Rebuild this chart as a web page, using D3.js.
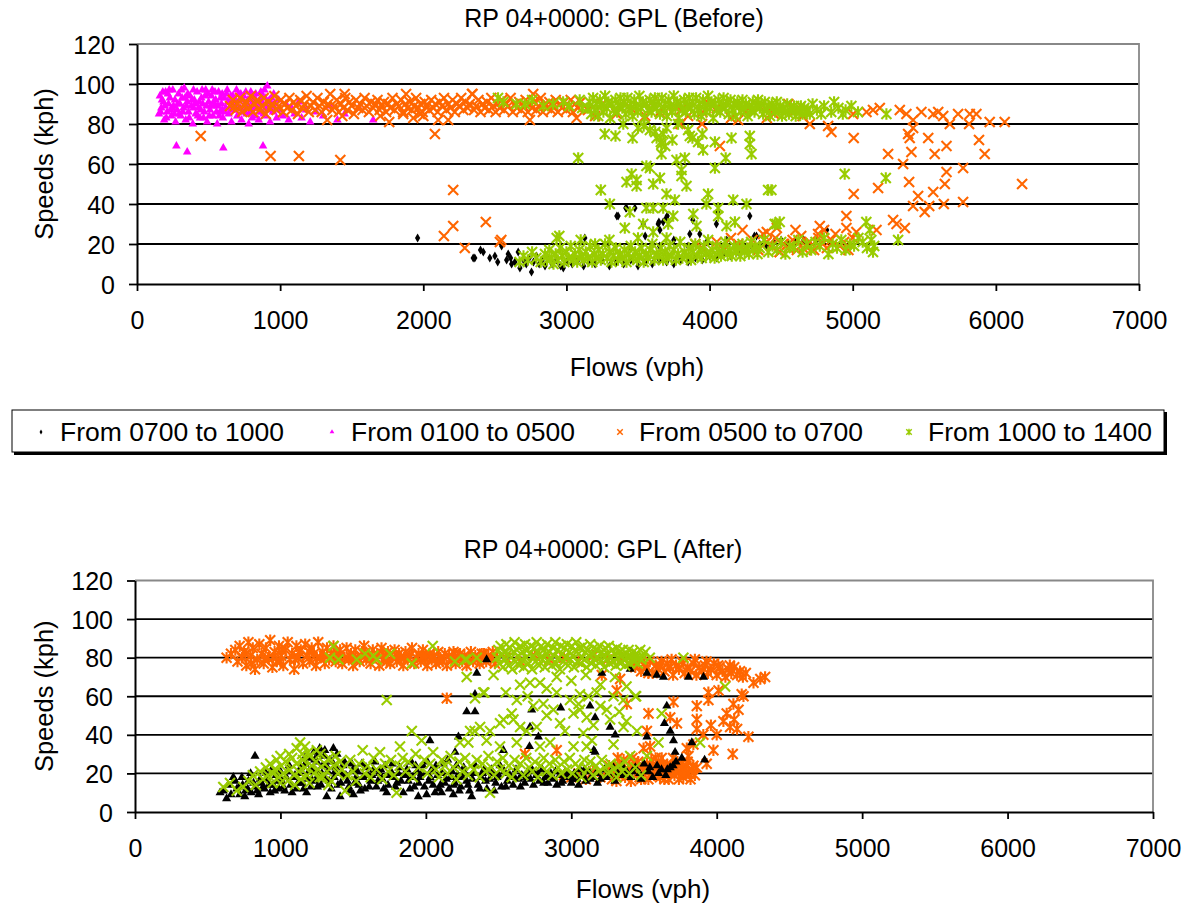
<!DOCTYPE html>
<html><head><meta charset="utf-8">
<script src="https://cdn.jsdelivr.net/npm/d3@7"></script>
<style>
body{margin:0;background:#fff;}
text{font-family:"Liberation Sans",Arial,sans-serif;fill:#000;}
</style>
</head><body>
<svg id="c" width="1191" height="909"></svg>
<script>
// ---------------- DATA ----------------
const flowTicks = [0,1000,2000,3000,4000,5000,6000,7000];
const speedTicks = [0,20,40,60,80,100,120];
const titleBefore = "RP 04+0000: GPL (Before)";
const titleAfter = "RP 04+0000: GPL (After)";
const xLabel = "Flows (vph)";
const yLabel = "Speeds (kph)";
const legendLabels = ["From 0700 to 1000","From 0100 to 0500","From 0500 to 0700","From 1000 to 1400"];

// Before: From 0700 to 1000 (black diamonds)
const beforeAM = [[1960,23],[2349,13],[2360,13],[2400,17],[2419,16],[2465,13],[2500,14],[2520,11],[2547,19],[2582,12],[2593,15],[2610,13],[2617,10],[2640,11],[2663,16],[2675,8],[2700,12],[2720,10],[2740,13],[2756,6],[2770,11],[2790,14],[2810,10],[2830,12],[2850,9],[2870,13],[2900,10],[2930,12],[2960,9],[2978,8],[3000,11],[3040,10],[3080,12],[3120,9],[3128,23],[3160,11],[3200,10],[3250,12],[3292,20],[3300,9],[3350,11],[3352,34],[3361,34],[3400,10],[3415,38],[3420,38],[3450,12],[3450,18],[3478,38],[3500,9],[3536,30],[3550,11],[3550,24],[3600,10],[3641,30],[3646,31],[3650,12],[3650,19],[3653,27],[3676,31],[3698,33],[3700,11],[3704,34],[3750,10],[3750,22],[3800,12],[3850,11],[3850,19],[3862,25],[3883,32],[3900,13],[3932,25],[3950,12],[3980,21],[4000,14],[4048,30],[4050,13],[4057,36],[4100,15],[4120,22],[4150,14],[4200,16],[4250,17],[4281,34],[4300,18],[4313,24],[4328,24],[4350,20],[4400,19],[4450,21],[4500,22],[4550,20],[4600,21],[4658,22],[4700,20],[4750,22],[4818,27]];

// Before: From 0100 to 0500 (magenta triangles)
const beforeNight = [[160,94],[165,86],[170,88],[175,92],[180,96],[185,91],[190,82],[195,89],[200,96],[205,83],[210,86],[215,95],[220,90],[225,97],[230,93],[235,87],[240,84],[245,88],[250,97],[255,89],[260,85],[265,92],[270,81],[280,87],[285,90],[290,95],[295,85],[300,90],[305,84],[310,97],[315,93],[320,86],[325,88],[330,98],[335,93],[340,82],[345,89],[350,91],[355,95],[360,86],[365,83],[370,94],[380,89],[385,92],[390,80],[395,88],[395,97],[400,92],[405,90],[410,85],[420,96],[425,84],[430,88],[435,91],[440,83],[445,87],[450,93],[455,97],[460,90],[465,83],[470,86],[475,94],[480,97],[485,89],[490,81],[495,95],[500,91],[505,84],[510,87],[515,89],[520,94],[525,97],[530,84],[535,91],[540,89],[545,96],[550,92],[555,86],[560,80],[565,89],[570,96],[575,84],[580,86],[585,93],[590,90],[595,95],[595,87],[600,83],[610,93],[615,86],[620,88],[625,95],[630,97],[635,91],[640,85],[645,88],[650,91],[655,94],[660,81],[665,87],[670,94],[675,89],[680,87],[685,92],[690,90],[695,97],[700,84],[705,88],[710,95],[715,92],[720,88],[725,95],[730,82],[735,86],[740,92],[745,94],[750,86],[755,90],[760,96],[765,85],[770,89],[775,92],[780,80],[785,88],[790,93],[795,86],[795,96],[800,87],[805,83],[810,91],[815,94],[820,84],[825,88],[830,95],[835,91],[840,88],[845,89],[850,82],[855,86],[860,92],[865,96],[870,86],[875,94],[880,90],[885,85],[890,97],[895,93],[900,84],[905,88],[910,99],[915,91],[920,88],[925,92],[930,81],[935,87],[940,93],[945,89],[950,86],[955,95],[960,90],[975,83],[990,92],[1000,87],[1020,84],[1040,90],[1060,82],[1080,88],[1100,85],[1130,91],[1150,83],[1180,87],[1210,81],[1250,86],[1300,84],[1350,89],[1400,82],[1450,85],[1550,88],[1650,82],[275,69],[351,66],[603,68],[880,69],[154,85]];

// Before: From 0500 to 0700 (orange x)
const beforeEarly = [[650,89],[670,92],[684,89],[690,87],[705,90],[720,93],[735,86],[750,89],[765,91],[780,88],[795,94],[810,86],[825,90],[840,92],[855,87],[870,89],[885,93],[900,85],[915,91],[930,88],[945,90],[960,94],[975,87],[990,89],[1005,92],[1020,86],[1035,90],[1050,88],[1065,93],[1080,87],[1095,91],[1110,89],[1125,85],[1140,92],[1155,88],[1170,90],[1185,94],[1200,86],[1215,89],[1230,91],[1245,87],[1260,93],[1275,89],[1290,86],[1305,91],[1320,88],[1335,90],[1350,95],[1365,87],[1380,89],[1395,92],[1410,86],[1425,90],[1440,88],[1450,95],[1455,93],[1470,87],[1485,91],[1500,89],[1515,85],[1530,92],[1545,88],[1560,90],[1575,87],[1590,93],[1605,89],[1620,86],[1635,91],[1650,88],[1665,90],[1680,92],[1695,87],[1700,84],[1710,89],[1725,91],[1740,86],[1755,90],[1770,88],[1785,93],[1800,87],[1815,90],[1830,89],[1845,92],[1860,86],[1860,85],[1875,90],[1880,95],[1890,88],[1905,91],[1920,87],[1935,89],[1950,93],[1965,88],[1980,90],[1995,86],[2000,84],[2010,91],[2025,89],[2040,87],[2055,92],[2070,88],[2085,90],[2100,86],[2115,91],[2130,89],[2145,93],[2160,87],[2175,90],[2190,88],[2205,92],[2220,86],[2235,90],[2250,89],[2265,93],[2280,87],[2295,91],[2310,88],[2325,90],[2340,95],[2344,95],[2355,87],[2370,89],[2385,92],[2400,86],[2415,90],[2430,88],[2445,91],[2460,87],[2475,93],[2490,89],[2505,86],[2520,90],[2535,88],[2550,92],[2565,87],[2580,90],[2595,89],[2610,93],[2625,86],[2640,90],[2655,88],[2670,91],[2685,87],[2700,89],[2715,92],[2730,86],[2745,82],[2745,90],[2760,88],[2768,95],[2775,91],[2790,87],[2805,89],[2820,93],[2835,86],[2850,90],[2865,88],[2880,91],[2895,87],[2910,89],[2925,92],[2940,86],[2955,90],[2970,88],[2985,91],[3000,87],[3015,89],[3030,92],[3045,86],[3060,90],[3071,83],[3080,88],[3100,91],
[3150,87],[3200,84],[3250,90],[3350,85],[3400,91],[3450,88],[3550,84],[3600,91],[3650,86],[3750,89],[3797,80],[3800,87],[3850,84],[3948,80],[3950,86],[4000,90],[4050,88],[4072,69],[4150,83],[4200,82],[4250,86],[4350,89],[4400,83],[4450,85],[4550,90],[4600,87],[4650,84],
[445,74],[933,64],[1131,64],[1420,62],[1762,81],[1329,82],[1434,84],[1930,83],[1976,85],[2081,75],[2104,82],[2174,82],[2209,47],[2209,29],[2144,24],[2437,31],[2290,18],[2535,21],[2545,22],
[4700,80],[4828,79],[4851,76],[5007,73],[5003,85],[5096,86],[5142,87],[5189,88],[5329,87],[5375,85],[5422,82],[5480,86],[5562,85],[5597,86],[5632,84],[5678,80],[5736,85],[5818,85],[5864,85],[5813,80],[5957,81],[6062,81],[5422,78],[5387,75],[5398,73],[5527,73],[5655,69],[5573,65],[5410,66],[5247,65],[5882,72],[5922,65],[5352,60],[5655,56],[5771,58],[5394,51],[5643,50],[5177,48],[5007,45],[5562,46],[5457,44],[5422,39],[5503,36],[5534,39],[5636,40],[5771,41],[6183,50],[5282,32],[5306,30],[5364,28],[4956,34],[4956,28],[5026,26],[5166,27],[4770,29],[4758,25],[4653,18],[4514,20],[4490,16],
[3900,20],[3950,18],[4050,21],[4100,17],[4150,23],[4200,20],[4230,27],[4250,18],[4300,22],[4340,17],[4374,25],[4400,21],[4400,26],[4430,19],[4460,23],[4470,28],[4490,16],[4520,20],[4550,18],[4580,22],[4600,27],[4610,17],[4640,24],[4670,19],[4700,21],[4730,17],[4760,23],[4790,20],[4800,27],[4820,18],[4850,22],[4880,25],[4910,19],[4940,21],[4970,17],[5000,23]];

// Before: From 1000 to 1400 (green asterisks)
const beforeMid = [[2522,93],[2560,91],[2651,90],[2710,90],[2760,92],[2840,89],[2907,90],[2977,91],[3020,89],[3093,92],[3110,88],
[3150,88],[3162,91],[3174,85],[3186,93],[3198,87],[3210,90],[3222,84],[3234,92],[3246,89],[3258,86],[3270,94],[3282,88],[3294,91],[3306,83],[3318,90],[3330,87],[3342,92],[3354,86],[3366,89],[3378,93],[3390,88],[3402,91],[3414,85],[3426,93],[3438,87],[3450,90],[3462,84],[3474,92],[3486,89],[3498,86],[3510,94],[3522,88],[3534,91],[3546,83],[3558,90],[3570,87],[3582,92],[3594,86],[3606,89],[3618,93],[3630,88],[3642,91],[3654,85],[3666,93],[3678,87],[3690,90],[3702,84],[3714,92],[3726,89],[3738,86],[3750,94],[3762,88],[3774,91],[3786,83],[3798,90],[3810,87],[3822,92],[3834,86],[3846,89],[3858,93],[3870,88],[3882,91],[3894,85],[3906,93],[3918,87],[3930,90],[3942,84],[3954,92],[3966,89],[3978,86],[3990,94],[4002,88],[4014,91],[4026,83],[4038,90],[4050,87],[4062,92],[4074,86],[4086,89],[4098,93],[4110,88],[4122,91],[4134,85],[4146,92],[4158,87],[4170,90],[4182,84],[4194,91],[4206,89],[4218,86],[4230,92],[4242,88],[4254,90],[4266,84],[4278,89],[4290,87],[4302,91],[4314,86],[4326,89],[4338,92],[4350,88],[4362,90],[4374,85],[4386,91],[4398,87],[4410,89],[4422,84],[4434,90],[4446,88],[4458,86],[4470,91],[4482,87],[4494,89],[4506,84],[4518,88],[4530,86],[4542,90],[4554,85],[4566,88],[4578,87],[4590,89],[4602,84],[4614,87],[4626,86],[4638,89],[4650,85],[4662,88],[4674,86],[4686,87],[4700,85],
[4720,90],[4750,87],[4780,85],[4800,89],[4850,86],[4870,91],[4900,88],[4931,85],[4950,87],[4991,89],[5037,86],[5235,85],
[3082,63],[3268,75],[3343,74],[3462,73],[3397,80],[3500,78],[3540,79],[3583,77],[3620,76],[3630,73],[3660,71],[3676,75],[3690,69],[3664,70],[3664,65],[3700,78],[3740,72],[3769,62],[3780,80],[3827,63],[3804,57],[3804,54],[3839,49],[3850,77],[3862,74],[3880,73],[3920,71],[3950,75],[3955,67],[4037,71],[4153,73],[4281,74],[4281,70],[4293,65],[4113,63],[4037,58],[3559,59],[3583,58],[3455,55],[3420,51],[3490,52],[3490,49],[3606,50],[3653,53],[3240,47],[3699,45],[3757,42],[3990,45],[4165,42],[4258,40],[4409,47],[3978,40],[3303,40],[3443,36],[3559,38],[3606,38],[3676,38],[3746,34],[3886,35],[4060,38],[4060,34],[4177,31],[4118,29],[3536,30],[3408,28],[3606,26],[3711,30],[3909,29],[4467,30],[2932,23],[4944,55],[5231,53],[4432,47],[5317,22],[4455,30],[4490,31],[5095,31],[5119,27],[5142,16],
[2672,11],[2700,14],[2730,12],[2760,16],[2790,13],[2820,11],[2850,15],[2865,12],[2880,17],[2895,13],[2910,10],[2925,15],[2940,12],[2950,24],[2955,18],[2970,14],[2985,11],[3000,16],[3015,13],[3030,19],[3045,12],[3060,15],[3075,11],[3090,17],[3100,22],[3105,14],[3120,12],[3135,16],[3150,13],[3165,19],[3180,11],[3195,15],[3200,20],[3210,13],[3225,17],[3240,12],[3255,15],[3270,20],[3285,13],[3300,16],[3300,22],[3315,11],[3330,14],[3345,18],[3360,12],[3375,15],[3390,13],[3405,17],[3420,11],[3435,15],[3450,19],[3465,13],[3480,16],[3495,12],[3500,23],[3510,14],[3525,18],[3540,11],[3555,15],[3570,13],[3585,17],[3600,20],[3615,12],[3630,15],[3645,14],[3660,18],[3675,12],[3690,16],[3700,23],[3705,13],[3720,19],[3735,14],[3750,17],[3765,12],[3780,15],[3795,21],[3810,13],[3825,16],[3840,14],[3855,18],[3870,12],[3885,16],[3900,20],[3915,14],[3930,17],[3945,13],[3960,19],[3975,15],[3990,22],[4005,14],[4020,17],[4035,13],[4050,19],[4065,16],[4080,14],[4095,18],[4110,21],[4125,15],[4140,17],[4155,14],[4170,19],[4185,16],[4200,18],[4215,14],[4230,20],[4245,16],[4260,18],[4275,15],[4290,21],[4305,17],[4320,19],[4335,15],[4350,18],[4380,22],[4410,16],[4440,19],[4470,17],[4500,21],[4530,15],[4560,19],[4590,18],[4620,22],[4650,16],[4680,20],[4710,17],[4740,21],[4770,19],[4800,23],[4830,15],[4860,20],[4890,18],[4920,22],[4950,17],[4980,20],[5010,19],[5040,23],[5070,21],[5100,18],[5130,22],[5150,19]];

// After: From 0700 to 1000 (black triangles)
const afterAM = [[585,10],[607,11],[630,7],[640,14],[660,9],[676,18],[690,16],[700,12],[715,13],[720,9],[735,18],[740,14],[755,8],[760,11],[775,12],[780,16],[795,20],[800,10],[815,15],[825,29],[830,13],[840,11],[850,9],[860,17],[870,15],[880,13],[890,12],[900,20],[910,17],[920,14],[930,10],[940,22],[950,14],[960,11],[970,19],[980,16],[990,12],[1000,21],[1010,16],[1020,13],[1030,11],[1040,18],[1050,21],[1060,24],[1070,14],[1080,10],[1090,18],[1100,19],[1110,12],[1120,15],[1130,20],[1140,23],[1150,15],[1160,12],[1170,25],[1175,29],[1180,10],[1190,17],[1195,21],[1200,28],[1210,13],[1215,17],[1220,22],[1230,31],[1235,27],[1240,16],[1250,26],[1255,13],[1260,19],[1265,30],[1270,33],[1280,14],[1285,20],[1290,24],[1300,29],[1305,32],[1310,17],[1315,24],[1318,8],[1325,21],[1335,16],[1340,27],[1350,12],[1355,26],[1364,33],[1370,18],[1375,21],[1380,23],[1390,30],[1395,14],[1410,8],[1415,15],[1420,20],[1430,24],[1440,26],[1450,19],[1460,16],[1470,13],[1480,11],[1490,25],[1500,22],[1502,9],[1510,15],[1520,18],[1530,21],[1540,14],[1550,11],[1560,25],[1570,18],[1580,12],[1590,23],[1600,19],[1610,13],[1620,16],[1630,19],[1640,22],[1650,26],[1660,13],[1670,16],[1680,20],[1690,22],[1700,17],[1710,12],[1720,24],[1731,10],[1740,14],[1750,19],[1760,21],[1770,25],[1780,18],[1790,13],[1800,15],[1810,20],[1820,23],[1830,16],[1845,10],[1860,19],[1870,22],[1880,16],[1890,12],[1900,26],[1910,18],[1920,13],[1930,24],[1940,21],[1948,8],[1950,15],[1960,18],[1970,20],[1980,24],[1990,13],[2005,9],[2010,26],[2020,16],[2028,37],[2030,18],[2040,22],[2050,14],[2063,10],[2070,24],[2080,19],[2090,12],[2100,14],[2108,10],[2110,20],[2120,25],[2130,15],[2140,17],[2150,27],[2160,12],[2170,18],[2180,21],[2189,9],[2190,14],[2200,15],[2201,31],[2210,24],[2220,19],[2224,39],[2230,11],[2240,13],[2250,18],[2260,23],[2270,20],[2280,16],[2281,52],[2290,14],[2300,11],[2315,8],[2320,17],[2330,20],[2338,52],[2338,61],[2340,24],[2350,72],[2360,14],[2370,12],[2380,18],[2390,20],[2400,22],[2410,16],[2418,79],[2420,12],[2440,17],[2450,22],[2460,20],[2470,11],[2480,15],[2490,18],[2500,19],[2510,24],[2520,13],[2533,32],[2540,21],[2550,13],[2560,16],[2570,20],[2580,18],[2600,14],[2610,18],[2620,22],[2640,17],[2650,13],[2660,19],[2680,15],[2690,18],[2700,21],[2713,34],[2716,44],[2720,17],[2728,53],[2730,22],[2740,14],[2760,19],[2770,20],[2774,39],[2780,16],[2800,22],[2810,15],[2820,18],[2840,15],[2850,18],[2860,20],[2880,17],[2890,21],[2900,14],[2920,19],[2927,54],[2930,15],[2940,16],[2960,21],[2970,19],[2980,18],[3000,15],[3010,17],[3020,20],[3040,17],[3050,14],[3060,22],[3080,19],[3090,22],[3100,16],[3120,21],[3129,55],[3130,17],[3140,18],[3155,32],[3164,49],[3164,31],[3170,20],[3180,15],[3200,17],[3210,72],[3230,22],[3240,18],[3260,19],[3267,44],[3290,23],[3300,16],[3302,40],[3320,20],[3350,24],[3360,19],[3380,21],[3405,74],[3410,18],[3420,21],[3440,23],[3470,20],[3480,17],[3500,25],[3520,72],[3520,39],[3530,21],[3540,23],[3560,18],[3588,71],[3590,24],[3600,20],[3620,22],[3634,70],[3640,46],[3650,19],[3657,55],[3660,22],[3680,42],[3680,23],[3700,24],[3703,37],[3714,31],[3720,26],[3760,28],[3806,70],[3829,36],[3909,70],[3917,27]];

// After: From 0500 to 0700 (orange asterisks)
const afterEarly = [[630,80],[660,82],[690,84],[705,78],[720,86],[735,80],[750,83],[760,82],[765,76],[780,88],[795,81],[800,77],[810,85],[825,74],[840,79],[855,87],[870,82],[885,77],[890,79],[900,85],[915,80],[930,89],[945,75],[950,80],[960,83],[975,78],[990,86],[1000,78],[1005,81],[1010,84],[1020,76],[1035,84],[1050,88],[1065,79],[1080,82],[1095,74],[1100,79],[1110,86],[1125,80],[1130,83],[1140,84],[1155,77],[1170,87],[1185,81],[1200,78],[1200,83],[1215,85],[1230,82],[1245,76],[1250,80],[1260,88],[1275,80],[1290,83],[1300,81],[1305,77],[1320,85],[1335,79],[1350,82],[1365,86],[1370,82],[1380,78],[1395,81],[1400,80],[1410,84],[1425,77],[1440,80],[1455,85],[1470,79],[1485,82],[1490,80],[1500,76],[1515,84],[1530,80],[1545,78],[1560,83],[1575,86],[1590,79],[1600,80],[1605,81],[1610,82],[1620,77],[1635,84],[1650,80],[1665,82],[1680,76],[1695,85],[1700,82],[1710,79],[1725,81],[1730,78],[1740,83],[1755,77],[1770,80],[1785,84],[1800,78],[1800,81],[1815,82],[1830,80],[1845,76],[1850,80],[1860,83],[1875,79],[1890,81],[1905,85],[1920,77],[1935,80],[1950,82],[1965,78],[1970,80],[1980,84],[1995,80],[2000,81],[2010,76],[2025,82],[2040,79],[2050,80],[2055,81],[2070,77],[2085,83],[2090,78],[2100,80],[2115,78],[2130,82],[2145,76],[2160,81],[2175,79],[2190,83],[2200,82],[2205,77],[2210,79],[2220,80],[2235,82],[2250,78],[2265,81],[2280,76],[2295,80],[2310,83],[2325,78],[2330,80],[2340,81],[2355,79],[2370,77],[2385,82],[2400,80],[2400,82],[2415,78],[2430,81],[2445,79],[2450,80],[2460,83],[2475,77],[2490,80],
[2550,80],[2650,78],[2750,81],[2850,79],[2950,80],[3050,78],[3150,81],[3250,79],[3350,80],
[3420,78],[3440,75],[3450,77],[3460,79],[3480,73],[3500,77],[3520,75],[3530,72],[3540,78],[3560,72],[3580,76],[3600,74],[3610,76],[3620,78],[3640,73],[3660,77],[3680,75],[3690,79],[3700,71],[3720,76],[3740,74],[3760,78],[3770,77],[3780,72],[3800,75],[3820,73],[3840,77],[3850,79],[3860,71],[3880,75],[3900,73],[3920,76],[3930,78],[3940,72],[3960,74],[3980,77],[4000,71],[4010,76],[4020,75],[4040,73],[4060,70],[4080,74],[4090,76],[4100,72],[4120,75],[4140,71],[4160,73],[4180,70],[4200,72],[4253,67],[4300,69],[4333,70],[4184,60],
[3210,71],[3336,69],[3313,63],[3382,56],[3531,51],[3520,42],[3703,57],[3680,49],[3726,46],[3863,55],[3863,48],[3863,43],[3943,62],[4012,63],[3943,58],[4069,51],[4046,47],[4092,44],[4000,40],[4172,61],[4115,56],[4218,39],[4110,30],[3908,40],[3977,32],[3840,35],[3794,33],[3806,29],[3931,25],[3863,23],[3760,22],[3794,20],[3542,34],[3497,33],[2900,32],[2682,30],[3622,28],[2144,59],[4150,53],[4120,48],[4140,43],[3960,45],
[2950,19],[3000,18],[3050,20],[3100,17],[3150,21],[3200,18],[3250,20],[3260,24],[3280,17],[3290,21],[3300,23],[3310,16],[3320,28],[3330,19],[3340,22],[3350,25],[3360,27],[3370,18],[3380,20],[3390,22],[3400,24],[3410,16],[3420,28],[3430,26],[3440,22],[3450,20],[3460,26],[3470,18],[3480,17],[3490,24],[3500,22],[3510,21],[3520,25],[3530,17],[3540,19],[3550,27],[3560,23],[3570,19],[3580,28],[3590,23],[3600,26],[3610,18],[3620,20],[3630,25],[3640,17],[3650,21],[3660,24],[3670,17],[3680,20],[3690,23],[3700,28],[3710,19],[3720,22],[3730,26],[3740,17],[3750,21],[3760,25],[3770,18],[3780,20],[3790,24],[3800,26],[3810,20],[3820,17],[3830,22],[3840,24],[3850,19]];

// After: From 1000 to 1400 (green x)
const afterMid = [[2490,80],[2498,84],[2506,77],[2514,86],[2522,81],[2530,75],[2538,83],[2546,79],[2554,87],[2562,82],[2570,76],[2578,85],[2586,80],[2594,74],[2602,83],[2610,88],[2618,78],[2626,84],[2634,81],[2642,76],[2650,86],[2658,79],[2666,83],[2674,75],[2682,87],[2690,80],[2698,84],[2706,77],[2714,82],[2722,86],[2730,74],[2738,81],[2746,85],[2754,78],[2762,88],[2770,83],[2778,76],[2786,80],[2794,86],[2802,79],[2810,84],[2818,75],[2826,82],[2834,87],[2842,78],[2850,83],[2858,80],[2866,76],[2874,85],[2882,81],[2890,88],[2898,77],[2906,84],[2914,80],[2922,74],[2930,86],[2938,82],[2946,78],[2954,85],[2962,80],[2970,87],[2978,76],[2986,83],[2994,79],[3002,86],[3010,81],[3018,75],[3026,84],[3034,88],[3042,78],[3050,82],[3058,85],[3066,77],[3074,80],[3082,86],[3090,79],[3098,83],[3106,75],[3114,84],[3122,81],[3130,87],[3138,77],[3146,82],[3154,85],[3162,79],[3170,76],[3178,84],[3186,80],[3194,86],[3202,78],[3210,83],[3218,81],[3226,75],[3234,85],[3242,79],[3250,82],[3258,86],[3266,77],[3274,80],[3282,84],[3290,78],[3298,82],[3306,76],[3314,85],[3322,80],[3330,83],[3338,77],[3346,81],[3354,84],[3362,79],[3370,76],[3378,82],[3386,80],[3394,84],[3402,77],[3410,81],[3418,79],[3426,83],[3434,78],[3442,80],[3450,82],[3458,77],[3466,80],[3474,84],[3482,79],[3490,81],[3510,83],[3540,80],[3771,80],[4058,65],[3886,36],
[1341,80],[1364,86],[1399,79],[1525,79],[1582,82],[1639,81],[1662,79],[1754,82],[1903,77],[2047,86],[1731,58],[2200,78],[2281,79],[2350,80],
[2281,70],[2465,71],[2269,79],[2395,62],[2402,62],[2338,59],[2625,58],[2648,66],[2716,67],[2785,67],[2831,64],[2900,62],[3060,61],[3118,60],[3175,62],[3290,60],[2991,58],[2808,56],[2739,55],[2877,53],[2831,50],[2590,51],[2533,48],[2510,46],[2602,48],[2648,44],[2693,42],[2762,44],[2923,46],[2957,42],[3015,51],[3060,53],[3106,49],[3152,45],[3083,41],[3141,37],[3244,53],[3267,48],[3290,35],[2304,42],[2335,42],[2373,44],[2441,42],[2235,36],[2292,36],[2418,37],[2510,34],[2625,36],[2854,36],[2785,34],[3015,34],[3106,34],[3359,44],[3405,29],[3520,29],[3451,42],[3600,36],[3622,51],[3440,60],[3359,58],[3446,60],[2900,70],[3000,68],[3100,71],[3200,66],[3300,70],[3380,65],[2550,62],[2700,60],[3050,56],[3200,55],[3330,52],[3380,47],
[607,13],[653,15],[699,11],[745,13],[780,16],[810,19],[830,14],[860,21],[880,17],[900,23],[915,19],[930,25],[945,15],[950,20],[960,22],[975,27],[990,18],[1000,29],[1000,15],[1005,24],[1020,20],[1035,26],[1050,16],[1060,30],[1065,22],[1080,28],[1095,19],[1100,14],[1110,25],[1112,33],[1125,21],[1135,36],[1140,17],[1150,30],[1155,27],[1169,34],[1170,23],[1185,19],[1190,31],[1200,29],[1200,15],[1215,24],[1230,20],[1245,26],[1250,32],[1260,22],[1270,18],[1275,30],[1290,18],[1305,25],[1320,21],[1330,14],[1335,28],[1350,16],[1365,24],[1380,29],[1395,20],[1410,26],[1425,22],[1445,11],[1460,19],[1480,27],[1500,21],[1520,16],[1540,25],[1566,32],[1580,20],[1600,24],[1620,18],[1640,28],[1660,22],[1685,31],[1700,17],[1720,25],[1740,21],[1760,27],[1780,19],[1799,10],[1820,24],[1822,34],[1840,28],[1860,21],[1880,26],[1903,42],[1910,18],[1930,30],[1950,23],[1971,37],[1990,27],[2010,20],[2030,25],[2050,31],[2070,22],[2090,18],[2110,27],[2130,24],[2150,20],[2170,29],[2190,23],[2210,17],[2230,26],[2250,21],[2270,28],[2290,19],[2310,24],[2330,22],[2350,27],[2370,18],[2390,25],[2410,21],[2430,29],[2441,10],[2450,23],[2470,19],[2490,26],[2510,22],[2530,28],[2550,20],[2570,24],[2590,18],[2610,27],[2630,22],[2650,25],[2670,19],[2690,28],[2710,23],[2730,21],[2750,26],[2770,18],[2790,24],[2810,28],[2830,21],[2850,25],[2870,19],[2890,27],[2910,23],[2930,20],[2950,26],[2970,22],[2990,28],[3010,20],[3030,25],[3050,23],[3070,18],[3090,27],[3110,22],[3130,26],[3150,19],[3170,24],[3190,21],[3210,27],[3230,23],[3250,20],[3270,25],[3290,22],[3310,18],[3330,24],[3350,21],[3370,26],[3400,20],[3440,23],[3480,19]];

// ---------------- RENDER ----------------
const svg = d3.select("#c");
const ORANGE = "#FF6600", GREEN = "#99CC00", MAGENTA = "#FF00FF", BLACK = "#000000";

const shapes = {
  diamond: {d: d3.symbol(d3.symbolDiamond, 24)(), filled: true},
  triangle: {d: d3.symbol(d3.symbolTriangle, 32)(), filled: true},
  triangleL: {d: d3.symbol(d3.symbolTriangle, 36)(), filled: true},
  xmark: {d: "M-5,-5L5,5M5,-5L-5,5", filled: false},
  aster: {d: "M-5,-5L5,5M5,-5L-5,5M0,-5.8L0,5.8", filled: false}
};

function drawSeries(g, data, x, y, shape, color, sw) {
  const s = shapes[shape];
  g.append("g").selectAll("path").data(data).join("path")
    .attr("transform", d => `translate(${x(d[0]).toFixed(1)},${y(d[1]).toFixed(1)})`)
    .attr("d", s.d)
    .attr("fill", s.filled ? color : "none")
    .attr("stroke", s.filled ? "none" : color)
    .attr("stroke-width", sw || 2);
}

function drawChart(cfg) {
  const g = svg.append("g");
  const x = d3.scaleLinear().domain([0,7000]).range([cfg.left, cfg.right]);
  const y = d3.scaleLinear().domain([0,120]).range([cfg.bottom, cfg.top]);

  g.append("g").selectAll("line").data(speedTicks.filter(v => v > 0 && v < 120)).join("line")
    .attr("x1", cfg.left).attr("x2", cfg.right)
    .attr("y1", d => y(d)).attr("y2", d => y(d))
    .attr("stroke", "#000").attr("stroke-width", 1.8);
  g.append("path")
    .attr("d", `M${cfg.left},${y(120)}H${cfg.right}V${cfg.bottom}`)
    .attr("fill", "none").attr("stroke", "#888").attr("stroke-width", 1.8);

  const xa = g.append("g").attr("transform", `translate(0,${cfg.bottom})`)
    .call(d3.axisBottom(x).tickValues(flowTicks).tickFormat(d3.format("d")).tickSize(7).tickSizeOuter(0).tickPadding(20));
  const ya = g.append("g").attr("transform", `translate(${cfg.left},0)`)
    .call(d3.axisLeft(y).tickValues(speedTicks).tickSize(8).tickSizeOuter(0).tickPadding(14));
  [xa, ya].forEach(a => {
    a.select(".domain").attr("stroke", "#000").attr("stroke-width", 2);
    a.selectAll(".tick line").attr("stroke", "#000").attr("stroke-width", 1.8);
    a.selectAll(".tick text").attr("font-size", 25).attr("font-family", "Liberation Sans, Arial, sans-serif").attr("fill", "#000");
  });
  ya.selectAll(".tick text").attr("dy", "0.36em");

  g.append("text").attr("x", cfg.titleX).attr("y", cfg.titleY).attr("text-anchor", "middle")
    .attr("font-size", 25).text(cfg.title);
  g.append("text").attr("x", cfg.xlabX).attr("y", cfg.xlabY).attr("text-anchor", "middle")
    .attr("font-size", 26).text(xLabel);
  g.append("text").attr("transform", `translate(${cfg.ylabX},${(cfg.top + cfg.bottom) / 2}) rotate(-90)`)
    .attr("text-anchor", "middle").attr("font-size", 25.5).text(yLabel);

  const pts = g.append("g");
  cfg.series.forEach(s => drawSeries(pts, s.data, x, y, s.shape, s.color, s.sw));
}

drawChart({
  left: 137, right: 1139, top: 44, bottom: 284,
  title: titleBefore, titleX: 614, titleY: 27, xlabX: 637, xlabY: 376, ylabX: 53,
  series: [
    {data: beforeAM, shape: "diamond", color: BLACK},
    {data: beforeNight, shape: "triangle", color: MAGENTA},
    {data: beforeEarly, shape: "xmark", color: ORANGE, sw: 2.1},
    {data: beforeMid, shape: "aster", color: GREEN, sw: 2.1}
  ]
});

drawChart({
  left: 135, right: 1153, top: 580.5, bottom: 812,
  title: titleAfter, titleX: 603, titleY: 558, xlabX: 643, xlabY: 898, ylabX: 53,
  series: [
    {data: afterEarly, shape: "aster", color: ORANGE, sw: 2.1},
    {data: afterAM, shape: "triangleL", color: BLACK},
    {data: afterMid, shape: "xmark", color: GREEN, sw: 2.1}
  ]
});

// legend
const lg = svg.append("g");
lg.append("rect").attr("x", 14).attr("y", 412).attr("width", 1153).attr("height", 43).attr("fill", "#000");
lg.append("rect").attr("x", 12).attr("y", 410).attr("width", 1152).attr("height", 42)
  .attr("fill", "#fff").attr("stroke", "#000").attr("stroke-width", 1);
const legendShapes = [["diamond", BLACK], ["triangle", MAGENTA], ["xmark", ORANGE], ["aster", GREEN]];
const legendMarkX = [41, 332, 620, 909];
legendLabels.forEach((lab, i) => {
  const s = shapes[legendShapes[i][0]];
  const c = legendShapes[i][1];
  lg.append("path").attr("transform", `translate(${legendMarkX[i]},432) scale(0.55)`)
    .attr("d", s.d).attr("fill", s.filled ? c : "none").attr("stroke", s.filled ? "none" : c).attr("stroke-width", 2.6);
  lg.append("text").attr("x", legendMarkX[i] + 19).attr("y", 441).attr("font-size", 26.5).text(lab);
});
</script>
</body></html>
